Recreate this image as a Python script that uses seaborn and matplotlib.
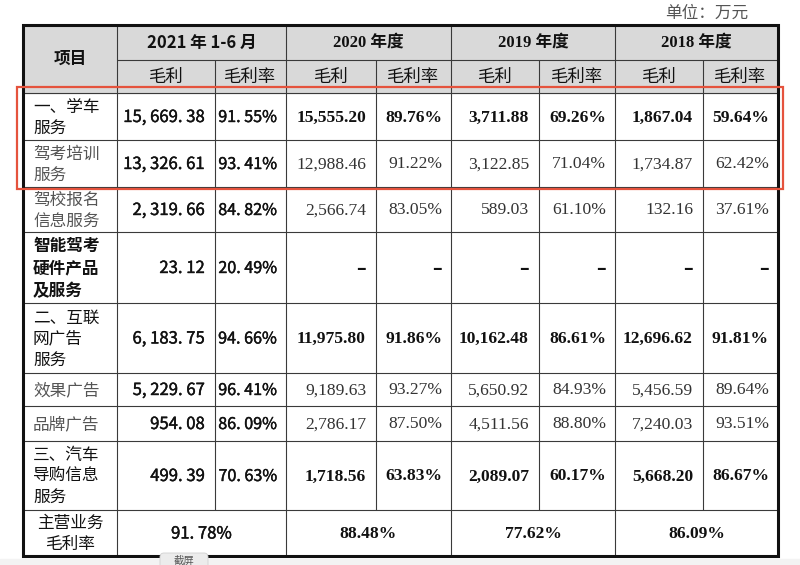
import matplotlib
matplotlib.use("Agg")
import matplotlib.pyplot as plt
import matplotlib.patheffects as pe
import seaborn as sns
from matplotlib.patches import Rectangle, FancyBboxPatch

# ---------------- data ----------------
periods = ["2021 年 1-6 月", "2020 年度", "2019 年度", "2018 年度"]
sub_headers = ["毛利", "毛利率"]
items = ["一、学车\n服务", "驾考培训\n服务", "驾校报名\n信息服务", "智能驾考\n硬件产品\n及服务",
         "二、互联\n网广告\n服务", "效果广告", "品牌广告", "三、汽车\n导购信息\n服务"]
is_main = [True, False, False, False, True, False, False, True]
gp_2021 = [15669.38, 13326.61, 2319.66, 23.12, 6183.75, 5229.67, 954.08, 499.39]
gm_2021 = [91.55, 93.41, 84.82, 20.49, 94.66, 96.41, 86.09, 70.63]
gp_2020 = [15555.20, 12988.46, 2566.74, None, 11975.80, 9189.63, 2786.17, 1718.56]
gm_2020 = [89.76, 91.22, 83.05, None, 91.86, 93.27, 87.50, 63.83]
gp_2019 = [3711.88, 3122.85, 589.03, None, 10162.48, 5650.92, 4511.56, 2089.07]
gm_2019 = [69.26, 71.04, 61.10, None, 86.61, 84.93, 88.80, 60.17]
gp_2018 = [1867.04, 1734.87, 132.16, None, 12696.62, 5456.59, 7240.03, 5668.20]
gm_2018 = [59.64, 62.42, 37.61, None, 91.81, 89.64, 93.51, 86.67]
total_label = "主营业务\n毛利率"
total_margin = [91.78, 88.48, 77.62, 86.09]
unit_text = "单位：万元"

# ---------------- layout ----------------
sns.set_theme(style="white")
plt.rcParams["font.family"] = ["Noto Sans CJK SC", "DejaVu Sans"]

W, H = 800, 565
fig = plt.figure(figsize=(W / 100, H / 100), dpi=100)
ax = fig.add_axes([0, 0, 1, 1])
ax.set_xlim(0, W)
ax.set_ylim(H, 0)
ax.axis("off")

xs = [23, 117, 215, 286, 376, 451, 539, 615, 703, 778]
ys = [25, 60, 93, 140, 187, 232, 303, 373, 406, 441, 510, 556]

CJK = ["Noto Sans CJK SC", "DejaVu Sans"]
SERIF = ["Liberation Serif", "Noto Sans CJK SC"]
line_c = "#3a3a3a"
thin = 0.8
semi = [pe.withStroke(linewidth=0.3, foreground="#111111")]

# bottom screenshot strip
ax.add_patch(Rectangle((0, 559), W, 10, color="#f3f3f3", zorder=0))
# header fill
ax.add_patch(Rectangle((xs[0], ys[0]), xs[-1] - xs[0], ys[2] - ys[0], color="#d9d9d9", zorder=1))

# horizontal lines
ax.plot([xs[1], xs[-1]], [ys[1], ys[1]], color=line_c, lw=thin, zorder=2)
for y in ys[2:-1]:
    ax.plot([xs[0], xs[-1]], [y, y], color=line_c, lw=thin, zorder=2)
# vertical lines
for i, x in enumerate(xs[1:-1], start=1):
    if i in (1, 3, 5, 7):
        ax.plot([x, x], [ys[0], ys[-1]], color=line_c, lw=thin, zorder=2)
    else:
        ax.plot([x, x], [ys[1], ys[-2]], color=line_c, lw=thin, zorder=2)
# outer border
ax.add_patch(Rectangle((xs[0], ys[0]), xs[-1] - xs[0], ys[-1] - ys[0], fill=False,
                       ec="#111111", lw=2.2, zorder=3))

# red highlight
ax.add_patch(Rectangle((17, 87), 766, 102, fill=False, ec="#e5533d", lw=1.6, zorder=4))

# unit
ax.text(748, 13, unit_text, ha="right", va="center", fontsize=12, color="#555555", family=CJK)

# headers
ax.text((xs[0] + xs[1]) / 2, (ys[0] + ys[2]) / 2, "项目", ha="center", va="center",
        fontsize=12, fontweight="bold", family=CJK, color="#111111")
for p, name in enumerate(periods):
    cx = (xs[1 + 2 * p] + xs[3 + 2 * p]) / 2
    fam = CJK if p == 0 else SERIF
    ax.text(cx, (ys[0] + ys[1]) / 2 + 0.5, name, ha="center", va="center", fontsize=12,
            fontweight="bold", family=fam, color="#111111")
    for s, sh in enumerate(sub_headers):
        c0 = xs[1 + 2 * p + s]
        c1 = xs[2 + 2 * p + s]
        ax.text((c0 + c1) / 2, (ys[1] + ys[2]) / 2 + 0.5, sh, ha="center", va="center",
                fontsize=12.5, family=CJK, color="#111111")


def fmt_num(v, spaced):
    if v is None:
        return "–"
    s = f"{v:,.2f}"
    if spaced:
        s = s.replace(",", ", ").replace(".", ". ")
    return s


def fmt_pct(v, spaced):
    if v is None:
        return "–"
    s = f"{v:.2f}%"
    if spaced:
        s = s.replace(".", ". ")
    return s


def put_value(x, y, v, text, fam, weight, col, fs, effects):
    if v is None:
        ax.text(x, y, text, ha="right", va="center", fontsize=12.6, family=CJK,
                fontweight="bold", color="#111111")
    else:
        ax.text(x, y, text, ha="right", va="center", fontsize=fs, family=fam,
                fontweight=weight, color=col, path_effects=effects)


gps = [gp_2021, gp_2020, gp_2019, gp_2018]
gms = [gm_2021, gm_2020, gm_2019, gm_2018]

for r, label in enumerate(items):
    y0, y1 = ys[2 + r], ys[3 + r]
    cy = (y0 + y1) / 2 + 1
    sub = not is_main[r] and r != 3
    lab_col = "#555555" if sub else "#111111"
    lw_ = "bold" if r == 3 else "normal"
    ax.text(33, cy, label, ha="left", va="center", fontsize=12, family=CJK,
            color=lab_col, fontweight=lw_, linespacing=1.3)
    for p in range(4):
        spaced = p == 0
        if p == 0:
            fam, weight, col, fs, eff = CJK, "normal", "#111111", 12, semi
        else:
            fam = SERIF
            weight = "bold" if is_main[r] else "normal"
            col = "#111111" if is_main[r] else "#333333"
            fs, eff = 12.6, None
        v1, v2 = gps[p][r], gms[p][r]
        put_value(xs[2 + 2 * p] - 10, cy, v1, fmt_num(v1, spaced), fam, weight, col, fs, eff)
        put_value(xs[3 + 2 * p] - 9, cy, v2, fmt_pct(v2, spaced), fam, weight, col,
                  11.6 if p == 0 else fs, eff)

# total row
ty = (ys[-2] + ys[-1]) / 2
ax.text((xs[0] + xs[1]) / 2, ty + 1, total_label, ha="center", va="center", fontsize=12,
        family=CJK, color="#111111", linespacing=1.3)
for p in range(4):
    cx = (xs[1 + 2 * p] + xs[3 + 2 * p]) / 2
    if p == 0:
        ax.text(cx, ty + 1, fmt_pct(total_margin[p], True), ha="center", va="center",
                fontsize=12, family=CJK, color="#111111", path_effects=semi)
    else:
        ax.text(cx, ty + 1, fmt_pct(total_margin[p], False), ha="center", va="center",
                fontsize=12.6, family=SERIF, fontweight="bold", color="#111111")

# screenshot tooltip artifact
ax.add_patch(FancyBboxPatch((160, 553), 48, 20, boxstyle="round,pad=0,rounding_size=4",
                            fc="#ececec", ec="#d0d0d0", lw=0.6, zorder=5))
ax.text(184, 560.5, "截屏", ha="center", va="center", fontsize=7.5, family=CJK, color="#555555", zorder=6)

fig.savefig("out.png", dpi=100)
